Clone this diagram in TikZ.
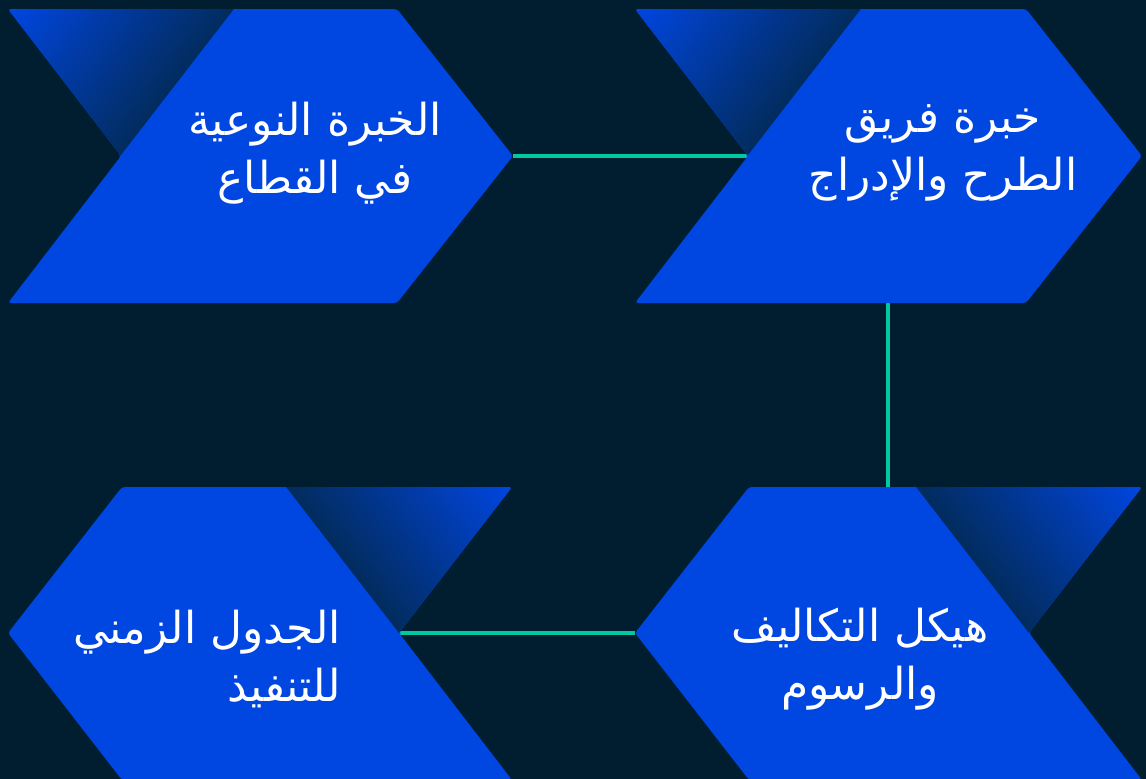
\documentclass[tikz,border=0pt]{standalone}
\usepackage{fontspec}
\newfontfamily\arabicfont[Script=Arabic]{DejaVu Sans}
\TeXXeTstate=1
\definecolor{bgcol}{HTML}{011E30}
\definecolor{chevblue}{HTML}{0046E1}
\definecolor{chevdark}{HTML}{022C5E}
\definecolor{linkcol}{HTML}{00C8A0}
\tikzset{
  chev/.style={fill=chevblue, rounded corners=3pt},
  link/.style={draw=linkcol, line width=3.5pt},
  txtlabel/.style={text=white, font=\arabicfont\fontsize{44}{58}\selectfont, inner sep=0pt, align=center},
  fadeband/.style={bottom color=chevblue, top color=chevdark},
}
\begin{document}
\begin{tikzpicture}[x=1pt,y=-1pt]
\fill[bgcol] (0,0) rectangle (1146,779);
\useasboundingbox (0,0) rectangle (1146,779);
% anchor points
\coordinate (tlTip) at (513,156);
\coordinate (trNotch) at (748,156);
\coordinate (trBot) at (888,303);
\coordinate (brTop) at (888,487);
\coordinate (blNotch) at (399,633);
\coordinate (brTip) at (635,633);
% connectors
\draw[link] (tlTip) -- (trNotch);
\draw[link] (trBot) -- (brTop);
\draw[link] (blNotch) -- (brTip);
% top-left chevron
\fill[chev] (8,9) -- (397,9) -- (513,156) -- (397,303) -- (8,303) -- (121,156) -- cycle;
\begin{scope}
\clip[rounded corners=3pt] (8,9) -- (397,9) -- (513,156) -- (397,303) -- (8,303) -- (121,156) -- cycle;
\clip (8,9) -- (234,9) -- (121,156) -- cycle;
\begin{scope}[transform canvas={shift={(8pt,-9pt)}, rotate=-127.7}]
\shade[fadeband] (-300pt,0pt) rectangle (300pt,178.7pt);
\end{scope}
\end{scope}
% top-right chevron
\fill[chev] (635,9) -- (1026,9) -- (1142,156) -- (1026,303) -- (635,303) -- (748,156) -- cycle;
\begin{scope}
\clip[rounded corners=3pt] (635,9) -- (1026,9) -- (1142,156) -- (1026,303) -- (635,303) -- (748,156) -- cycle;
\clip (635,9) -- (861,9) -- (748,156) -- cycle;
\begin{scope}[transform canvas={shift={(635pt,-9pt)}, rotate=-127.7}]
\shade[fadeband] (-300pt,0pt) rectangle (300pt,178.7pt);
\end{scope}
\end{scope}
% bottom-left chevron
\fill[chev] (8,633) -- (122,487) -- (512,487) -- (399,633) -- (512,780) -- (122,780) -- cycle;
\begin{scope}
\clip[rounded corners=3pt] (8,633) -- (122,487) -- (512,487) -- (399,633) -- (512,780) -- (122,780) -- cycle;
\clip (512,487) -- (286,487) -- (399,633) -- cycle;
\begin{scope}[transform canvas={shift={(512pt,-487pt)}, rotate=127.7}]
\shade[fadeband] (-300pt,0pt) rectangle (300pt,178.7pt);
\end{scope}
\end{scope}
% bottom-right chevron
\fill[chev] (635,633) -- (749,487) -- (1142,487) -- (1029,633) -- (1142,780) -- (749,780) -- cycle;
\begin{scope}
\clip[rounded corners=3pt] (635,633) -- (749,487) -- (1142,487) -- (1029,633) -- (1142,780) -- (749,780) -- cycle;
\clip (1142,487) -- (916,487) -- (1029,633) -- cycle;
\begin{scope}[transform canvas={shift={(1142pt,-487pt)}, rotate=127.7}]
\shade[fadeband] (-300pt,0pt) rectangle (300pt,178.7pt);
\end{scope}
\end{scope}
% labels
\node[txtlabel] (tlText) at (315,153) {\beginR الخبرة النوعية\endR\\\beginR في القطاع\endR};
\node[txtlabel] (trText) at (943,153) {\beginR خبرة فريق\endR\\\beginR الطرح والإدراج\endR};
\node[txtlabel, align=right, anchor=east] (blText) at (341,659) {\beginR الجدول الزمني\endR\\\beginR للتنفيذ\endR};
\node[txtlabel] (brText) at (860,659) {\beginR هيكل التكاليف\endR\\\beginR والرسوم\endR};
\end{tikzpicture}
\end{document}
